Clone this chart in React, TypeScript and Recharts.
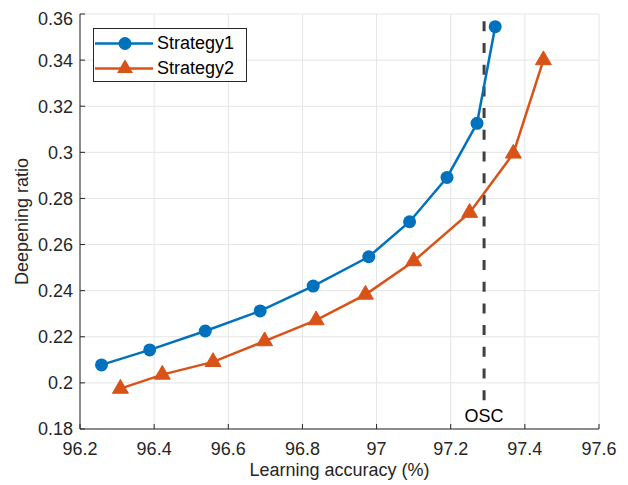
import { CartesianGrid, Legend, Line, LineChart, ReferenceDot, ReferenceLine, XAxis, YAxis } from 'recharts';

const accuracy1 = [96.258, 96.388, 96.538, 96.686, 96.829, 96.979, 97.089, 97.19, 97.271, 97.32];
const ratio1 = [0.2078, 0.2143, 0.2225, 0.2312, 0.242, 0.2547, 0.2699, 0.2891, 0.3126, 0.3545];
const accuracy2 = [96.309, 96.422, 96.559, 96.698, 96.837, 96.97, 97.1, 97.251, 97.369, 97.45];
const ratio2 = [0.1975, 0.2036, 0.2091, 0.2181, 0.2272, 0.2383, 0.2528, 0.2738, 0.2995, 0.34];

const xTicks = [96.2, 96.4, 96.6, 96.8, 97, 97.2, 97.4, 97.6];
const yTicks = [0.18, 0.2, 0.22, 0.24, 0.26, 0.28, 0.3, 0.32, 0.34, 0.36];

const oscAccuracy = 97.29;
const oscRange = [0.1925, 0.36];

const strategy1 = accuracy1.map((x, i) => ({ x, y: ratio1[i] }));
const strategy2 = accuracy2.map((x, i) => ({ x, y: ratio2[i] }));

const BLUE = '#0072BD';
const ORANGE = '#D95319';
const AXIS = '#262626';
const FONT = '"Liberation Sans", Arial, sans-serif';

const Triangle = (props: any) => {
  const { cx, cy, index } = props;
  if (cx == null || cy == null) return null;
  const r = 9.2;
  const pts = `${cx},${cy - r} ${cx - r * 0.866},${cy + r / 2} ${cx + r * 0.866},${cy + r / 2}`;
  return <polygon key={`tri-${index}`} points={pts} fill={ORANGE} stroke={ORANGE} />;
};

const LegendBox = () => {
  const rows = [
    { name: 'Strategy1', color: BLUE, shape: 'circle' },
    { name: 'Strategy2', color: ORANGE, shape: 'triangle' },
  ];
  return (
    <div
      style={{
        width: 152,
        height: 50,
        border: `1px solid ${AXIS}`,
        background: '#fff',
        fontFamily: FONT,
        fontSize: 18,
        color: '#000',
        paddingTop: 2,
        boxSizing: 'content-box',
      }}
    >
      {rows.map((r) => (
        <div key={r.name} style={{ display: 'flex', alignItems: 'center', height: 25 }}>
          <svg width={62} height={25} style={{ display: 'block' }}>
            <line x1={1} y1={12.5} x2={59} y2={12.5} stroke={r.color} strokeWidth={2.5} />
            {r.shape === 'circle' ? (
              <circle cx={31} cy={12.5} r={6.5} fill={r.color} />
            ) : (
              <polygon points={`31,${12.5 - 9.2} ${31 - 8},${12.5 + 4.6} ${31 + 8},${12.5 + 4.6}`} fill={r.color} />
            )}
          </svg>
          <span style={{ marginLeft: 1 }}>{r.name}</span>
        </div>
      ))}
    </div>
  );
};

const App = () => {
  const tickStyle = { fill: AXIS, fontSize: 18, fontFamily: FONT };
  return (
    <LineChart width={612} height={477} margin={{ top: 6, right: 21, bottom: 8, left: 0 }}>
      <CartesianGrid stroke="#e5e5e5" strokeWidth={1} />
      <XAxis
        type="number"
        dataKey="x"
        domain={[96.2, 97.6]}
        ticks={xTicks}
        allowDataOverflow
        height={48}
        tickSize={-5}
        tickMargin={18}
        stroke={AXIS}
        tick={tickStyle}
        tickFormatter={(v: number) => String(+v.toFixed(1))}
        label={{
          content: ({ viewBox }: any) => (
            <text
              x={viewBox.x + viewBox.width / 2}
              y={viewBox.y + 41}
              textAnchor="middle"
              dominantBaseline="central"
              fill={AXIS}
              fontSize={18}
              fontFamily={FONT}
            >
              Learning accuracy (%)
            </text>
          ),
        }}
      />
      <XAxis
        xAxisId="top"
        orientation="top"
        type="number"
        domain={[96.2, 97.6]}
        ticks={xTicks}
        height={0}
        tickSize={-5}
        tick={false}
        stroke={AXIS}
      />
      <YAxis
        type="number"
        dataKey="y"
        domain={[0.18, 0.36]}
        ticks={yTicks}
        allowDataOverflow
        width={72}
        tickSize={-5}
        tickMargin={12}
        stroke={AXIS}
        tick={tickStyle}
        tickFormatter={(v: number) => String(+v.toFixed(2))}
        label={{
          content: ({ viewBox }: any) => {
            const cx = 14;
            const cy = viewBox.y + viewBox.height / 2;
            return (
              <text
                x={cx}
                y={cy}
                transform={`rotate(-90 ${cx} ${cy})`}
                textAnchor="middle"
                dominantBaseline="central"
                fill={AXIS}
                fontSize={18}
                fontFamily={FONT}
              >
                Deepening ratio
              </text>
            );
          },
        }}
      />
      <YAxis
        yAxisId="right"
        orientation="right"
        type="number"
        domain={[0.18, 0.36]}
        ticks={yTicks}
        width={0}
        tickSize={-5}
        tick={false}
        stroke={AXIS}
      />
      <ReferenceLine
        segment={[
          { x: oscAccuracy, y: oscRange[0] },
          { x: oscAccuracy, y: oscRange[1] },
        ]}
        stroke="#404040"
        strokeWidth={3}
        strokeDasharray="10 11.7"
      />
      <ReferenceDot
        x={oscAccuracy}
        y={0.186}
        r={0}
        fill="none"
        stroke="none"
        label={{ value: 'OSC', position: 'center', fill: '#000', fontSize: 18, fontFamily: FONT }}
      />
      <Line
        data={strategy1}
        dataKey="y"
        name="Strategy1"
        stroke={BLUE}
        strokeWidth={2.5}
        dot={{ r: 6.5, fill: BLUE, stroke: BLUE, strokeWidth: 0 }}
        isAnimationActive={false}
      />
      <Line
        data={strategy2}
        dataKey="y"
        name="Strategy2"
        stroke={ORANGE}
        strokeWidth={2.5}
        dot={<Triangle />}
        isAnimationActive={false}
      />
      <Legend
        layout="horizontal"
        verticalAlign="middle"
        align="center"
        content={() => <LegendBox />}
        wrapperStyle={{ position: 'absolute', left: 85, top: 20, width: 'auto' }}
      />
    </LineChart>
  );
};

export default App;
